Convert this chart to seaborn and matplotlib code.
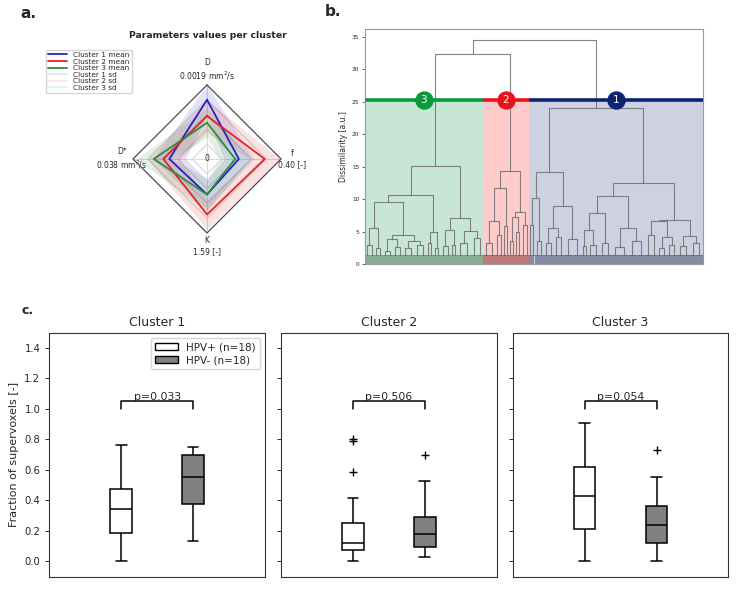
import numpy as np
import pandas as pd
import matplotlib
matplotlib.use('Agg')
import matplotlib.pyplot as plt
from matplotlib.patches import Patch
import seaborn as sns

sns.set_style('ticks')
plt.rcParams['font.family'] = ['DejaVu Sans']

# ---- panel a: radar data (normalised to axis maximum) ----
radar_axes = ['D', 'f', 'K', 'D*']
radar_labels = ['D\n0.0019 mm$^2$/s', 'f\n0.40 [-]', 'K\n1.59 [-]', 'D*\n0.038 mm$^2$/s']
c1_mean = [0.80, 0.43, 0.48, 0.51]
c2_mean = [0.58, 0.78, 0.75, 0.59]
c3_mean = [0.49, 0.38, 0.48, 0.72]
c1_sd = [0.20, 0.20, 0.20, 0.22]
c2_sd = [0.22, 0.20, 0.20, 0.22]
c3_sd = [0.20, 0.20, 0.22, 0.24]
radar_colors = ['#2323c8', '#e32424', '#2e8b3a']
grid_levels = [0.2, 0.4, 0.6, 0.8]

# ---- panel b: dendrogram, nested [height, left, right], ints = leaf counts ----
green_tree = [15.1,
              [10.65,
               [9.6,
                [5.6, [3.0, 4, 5], [2.5, 4, 4]],
                [4.5, [3.8, [2.0, 5, 5], [2.6, 5, 5]], [3.6, [2.4, 6, 6], [2.9, 6, 6]]]],
               [4.9, [3.2, 3, 4], [2.4, 3, 4]]],
              [7.07,
               [5.3, [2.7, 5, 5], [3.0, 3, 3]],
               [5.1, [3.2, 7, 7], [4.0, 6, 6]]]]
red_tree = [14.4,
            [11.7,
             [6.55, [3.2, 6, 6], [4.5, 4, 4]],
             [5.8, 3, 3]],
            [8.0,
             [7.3, [3.5, 3, 3], [5.0, 3, 3]],
             [6.0, 4, 4]]]
blue_tree = [24.0,
             [14.1,
              [10.15, [6.0, 3, 3], [3.5, 4, 4]],
              [8.86,
               [5.6, [3.3, 5, 5], [4.2, 5, 5]],
               [3.8, 9, 9]]],
             [12.45,
              [10.4,
               [7.9, [5.2, [2.8, 3, 3], [3.0, 6, 6]], [3.2, 6, 6]],
               [5.6, [2.6, 8, 8], [3.5, 9, 8]]],
              [6.75,
               [6.55, [4.5, 6, 6], [4.1, [2.5, 5, 5], [3.0, 5, 5]]],
               [4.35, [2.8, 6, 7], [3.3, 6, 7]]]]]
full_tree = [34.5, [32.3, green_tree, red_tree], blue_tree]
cut_height = 25.3
leaf_height = 1.4
cluster_names = ['3', '2', '1']
cluster_line = ['#0a9a3c', '#e8141b', '#0b2470']
cluster_fill = ['#c8e6d5', '#ffcccc', '#cdd1e2']
cluster_leaf = ['#5f8a70', '#9a4a4a', '#5e6280']

# ---- panel c: fraction of supervoxels per patient ----
c1_pos = [0.0, 0.06, 0.11, 0.15, 0.185, 0.185, 0.23, 0.29, 0.345, 0.345, 0.39, 0.44, 0.475, 0.475, 0.52, 0.60, 0.68, 0.765]
c1_neg = [0.131, 0.20, 0.27, 0.33, 0.374, 0.374, 0.43, 0.50, 0.553, 0.553, 0.60, 0.65, 0.70, 0.70, 0.71, 0.72, 0.735, 0.748]
c2_pos = [0.0, 0.03, 0.05, 0.065, 0.077, 0.077, 0.09, 0.11, 0.123, 0.123, 0.15, 0.20, 0.254, 0.254, 0.416, 0.586, 0.788, 0.80]
c2_neg = [0.026, 0.05, 0.07, 0.085, 0.094, 0.094, 0.12, 0.15, 0.179, 0.179, 0.21, 0.25, 0.293, 0.293, 0.35, 0.42, 0.527, 0.696]
c3_pos = [0.0, 0.08, 0.13, 0.18, 0.212, 0.212, 0.30, 0.37, 0.431, 0.431, 0.50, 0.56, 0.619, 0.619, 0.68, 0.75, 0.83, 0.906]
c3_neg = [0.0, 0.04, 0.07, 0.10, 0.118, 0.118, 0.16, 0.20, 0.236, 0.236, 0.27, 0.31, 0.361, 0.361, 0.42, 0.48, 0.553, 0.73]
p_values = ['p=0.033', 'p=0.506', 'p=0.054']
groups = ['HPV+', 'HPV-']

fig = plt.figure(figsize=(7.39, 6.0), dpi=100)

# ================= panel a =================
ax_r = fig.add_axes([0.18, 0.6117, 0.2003, 0.2467], projection='polar')
ax_r.set_theta_offset(np.pi / 2)
ax_r.set_theta_direction(-1)
theta = np.linspace(0, 2 * np.pi, len(radar_axes), endpoint=False)
theta_c = np.append(theta, theta[0])

for lvl in grid_levels:
    ax_r.plot(theta_c, [lvl] * len(theta_c), color='#d6d6d6', lw=0.8, zorder=1)
for t in theta:
    ax_r.plot([t, t], [0, 1], color='#d8d8d8', lw=0.7, zorder=1)

means = [c1_mean, c2_mean, c3_mean]
sds = [c1_sd, c2_sd, c3_sd]
for i, (m, s, col) in enumerate(zip(means, sds, radar_colors)):
    m = np.array(m + m[:1])
    s = np.array(s + s[:1])
    ax_r.fill_between(theta_c, m - s, m + s, color=col, alpha=0.13, lw=0, zorder=2)
    ax_r.plot(theta_c, m, color=col, lw=1.3, zorder=4, label=f'Cluster {i + 1} mean')
for i, col in enumerate(radar_colors):
    ax_r.plot([], [], color=col, alpha=0.12, lw=1.3, label=f'Cluster {i + 1} sd')

ax_r.plot(theta_c, [1] * len(theta_c), color='#4a4a4a', lw=0.9, zorder=5, clip_on=False)
ax_r.set_ylim(0, 1)
ax_r.set_xticks([])
ax_r.set_yticks([])
ax_r.grid(False)
ax_r.spines['polar'].set_visible(False)
ax_r.text(0, 0, '0', ha='center', va='center', fontsize=5.5, zorder=6)

ax_r.text(theta[0], 1.04, radar_labels[0], ha='center', va='bottom', fontsize=5.5, linespacing=1.3)
ax_r.text(theta[1], 1.15, radar_labels[1], ha='center', va='center', fontsize=5.5, linespacing=1.3)
ax_r.text(theta[2], 1.04, radar_labels[2], ha='center', va='top', fontsize=5.5, linespacing=1.3)
ax_r.text(theta[3], 1.15, radar_labels[3], ha='center', va='center', fontsize=5.5, linespacing=1.3)

ax_r.legend(loc='upper left', bbox_to_anchor=(42 / 739, 1 - 46 / 600), bbox_transform=fig.transFigure,
            fontsize=5.3, handlelength=2.6, labelspacing=0.05, borderpad=0.3, framealpha=0.8)
fig.text(208 / 739, 1 - 35 / 600, 'Parameters values per cluster', ha='center', va='center',
         fontsize=6.7, fontweight='bold')

# ================= panel b =================
ax_d = fig.add_axes([365 / 739, 1 - 264 / 600, 338 / 739, 235 / 600])


def count_leaves(node):
    if isinstance(node, int):
        return node
    return count_leaves(node[1]) + count_leaves(node[2])


def draw_tree(ax, node, start, leaf_col):
    if isinstance(node, int):
        # small comb of individual leaves
        xs = start + 0.5 + np.arange(node)
        ax.vlines(xs, 0, leaf_height, color=leaf_col, lw=0.45, zorder=3)
        ax.plot([xs[0], xs[-1]], [leaf_height, leaf_height], color=leaf_col, lw=0.6, zorder=3)
        return start + node / 2, leaf_height, start + node
    h, left, right = node
    xl, hl, nxt = draw_tree(ax, left, start, leaf_col)
    xr, hr, nxt = draw_tree(ax, right, nxt, leaf_col)
    ax.plot([xl, xl, xr, xr], [hl, h, h, hr], color='#6e6e6e', lw=0.8, alpha=0.85, zorder=3)
    return (xl + xr) / 2, h, nxt


subtrees = [green_tree, red_tree, blue_tree]
sizes = [count_leaves(t) for t in subtrees]
edges = np.concatenate([[0], np.cumsum(sizes)])
for i in range(3):
    lo, hi = edges[i], edges[i + 1]
    ax_d.fill_between([lo, hi], 0, cut_height, color=cluster_fill[i], lw=0, zorder=1)
    ax_d.plot([lo, hi], [cut_height, cut_height], color=cluster_line[i], lw=2.6, zorder=5,
              solid_capstyle='butt')
    ax_d.scatter([(lo + hi) / 2], [cut_height], s=150, color=cluster_line[i], zorder=6)
    ax_d.text((lo + hi) / 2, cut_height, cluster_names[i], color='white', ha='center', va='center',
              fontsize=7.5, zorder=7)

# each cluster's subtree with its own leaf colour, then the top links
x_g, h_g, nxt = draw_tree(ax_d, green_tree, edges[0], cluster_leaf[0])
x_r, h_r, nxt = draw_tree(ax_d, red_tree, edges[1], cluster_leaf[1])
x_b, h_b, nxt = draw_tree(ax_d, blue_tree, edges[2], cluster_leaf[2])
h_gr = full_tree[1][0]
h_top = full_tree[0]
ax_d.plot([x_g, x_g, x_r, x_r], [h_g, h_gr, h_gr, h_r], color='#6e6e6e', lw=0.8, alpha=0.85, zorder=3)
x_gr = (x_g + x_r) / 2
ax_d.plot([x_gr, x_gr, x_b, x_b], [h_gr, h_top, h_top, h_b], color='#6e6e6e', lw=0.8, alpha=0.85, zorder=3)

ax_d.set_xlim(0, edges[-1])
ax_d.set_ylim(0, 36.2)
ax_d.set_xticks([])
ax_d.set_yticks(np.arange(0, 36, 5))
ax_d.tick_params(axis='y', labelsize=4.2, length=2, width=0.5, pad=2)
ax_d.set_ylabel('Dissimilarity [a.u.]', fontsize=5.5, labelpad=3)
for sp in ax_d.spines.values():
    sp.set_color('#999999')
    sp.set_linewidth(0.8)

# ================= panel c =================
data_sets = [(c1_pos, c1_neg), (c2_pos, c2_neg), (c3_pos, c3_neg)]
lefts = [49.3, 281.0, 512.7]
axes_c = []
for k, (pos, neg) in enumerate(data_sets):
    ax = fig.add_axes([lefts[k] / 739, 1 - 576.7 / 600, 215.7 / 739, 244 / 600])
    axes_c.append(ax)
    df = pd.DataFrame({'group': [groups[0]] * len(pos) + [groups[1]] * len(neg),
                       'value': pos + neg})
    sns.boxplot(data=df, x='group', y='value', hue='group', order=groups, hue_order=groups,
                palette={'HPV+': 'white', 'HPV-': '#808080'}, width=0.3, linecolor='black',
                linewidth=1.1, saturation=1, legend=False, ax=ax,
                flierprops=dict(marker='+', markersize=5.5, markeredgecolor='black', markeredgewidth=1))
    ax.set_xlim(-1, 2)
    ax.set_ylim(-0.1, 1.5)
    ax.set_yticks(np.arange(0, 1.41, 0.2))
    ax.set_xticks([])
    ax.set_xlabel('')
    ax.set_ylabel('')
    ax.set_title(f'Cluster {k + 1}', fontsize=9, pad=5)
    ax.plot([0, 0, 1, 1], [1.0, 1.05, 1.05, 1.0], color='black', lw=1.1)
    ax.text(0.5, 1.043, p_values[k], ha='center', va='bottom', fontsize=7.8)
    ax.tick_params(axis='y', labelsize=7.2, length=3, width=0.7)
    for sp in ax.spines.values():
        sp.set_color('#333333')
        sp.set_linewidth(0.8)
    if k > 0:
        ax.set_yticklabels([])

axes_c[0].set_ylabel('Fraction of supervoxels [-]', fontsize=8)
axes_c[0].legend(handles=[Patch(facecolor='white', edgecolor='black', label='HPV+ (n=18)'),
                          Patch(facecolor='#808080', edgecolor='black', label='HPV- (n=18)')],
                 loc='upper right', fontsize=7.5, handlelength=2.2, borderpad=0.4, labelspacing=0.3)

fig.text(20 / 739, 1 - 13 / 600, 'a.', fontsize=11, fontweight='bold', va='center')
fig.text(325 / 739, 1 - 12 / 600, 'b.', fontsize=11, fontweight='bold', va='center')
fig.text(21 / 739, 1 - 310 / 600, 'c.', fontsize=9, fontweight='bold', va='center')

fig.savefig('out.png', dpi=100)
